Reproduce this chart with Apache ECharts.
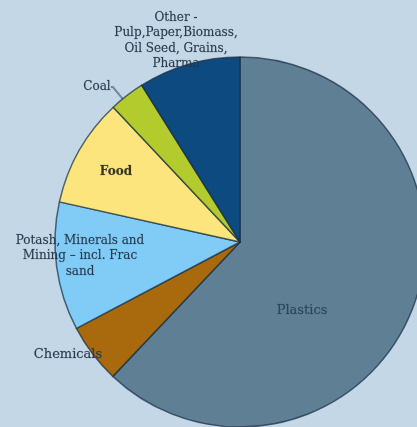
<!DOCTYPE html>
<html><head><meta charset="utf-8">
<script src="https://cdn.jsdelivr.net/npm/echarts@6/dist/echarts.min.js"></script>
<style>html,body{margin:0;padding:0;background:#c3d7e7;}#c{width:417px;height:427px;}</style>
</head><body><div id="c"></div>
<script>
const categories = ['Plastics', 'Chemicals', 'Potash, Minerals and\nMining – incl. Frac\nsand', 'Food', 'Coal', 'Other -\nPulp,Paper,Biomass,\nOil Seed, Grains,\nPharma'];
const values = [62, 5.2, 11.2, 9.5, 3.1, 8.9];
const colors = ['#5f7f95', '#a86a0c', '#80ccf6', '#fbe57c', '#b3cb2c', '#0c4a7f'];
const labelPos = [[302, 311], [68, 355], [80, 256], [116, 172], [97, 87], [176, 41]];

const chart = echarts.init(document.getElementById('c'));
chart.setOption({
  backgroundColor: '#c3d7e7',
  series: [{
    type: 'pie',
    center: [240, 242],
    radius: 185,
    startAngle: 90,
    clockwise: true,
    animation: false,
    silent: true,
    label: {
      show: true,
      position: 'inside',
      fontFamily: 'DejaVu Serif',
      fontSize: 12,
      lineHeight: 15.5,
      color: '#27394c',
      align: 'center',
      textBorderColor: 'rgba(39,57,76,0.35)',
      textBorderWidth: 0.4
    },
    labelLine: { show: false },
    labelLayout: function (p) {
      return { x: labelPos[p.dataIndex][0], y: labelPos[p.dataIndex][1], align: 'center', verticalAlign: 'middle' };
    },
    itemStyle: { borderColor: 'rgba(25,45,65,0.7)', borderWidth: 1.5 },
    data: categories.map((n, i) => ({
      name: n, value: values[i],
      itemStyle: { color: colors[i] },
      label: i === 1 ? { fontSize: 13 } : (i === 0 ? { fontSize: 13, color: '#2b465c' } : (i === 3 ? { fontWeight: 'bold', color: '#3a3520' } : {})),
      labelLine: i === 4 ? { show: true, length: 3, length2: 2, lineStyle: { color: '#6a8aa0', width: 2 } } : undefined
    }))
  }]
});
</script></body></html>
